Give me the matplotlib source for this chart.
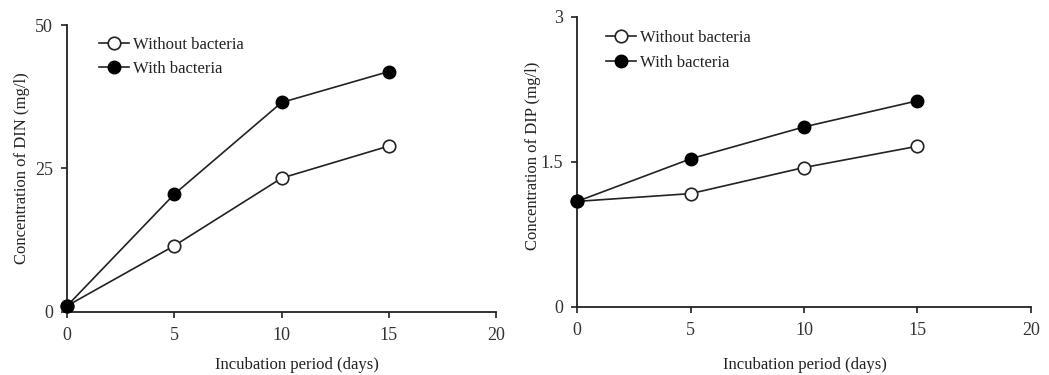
import numpy as np
import matplotlib.pyplot as plt

plt.rcParams['font.family'] = ['Liberation Serif', 'DejaVu Serif']

days = [0, 5, 10, 15]
din_without = [1.0, 11.5, 23.3, 28.9]
din_with = [1.0, 20.5, 36.5, 41.9]
dip_without = [1.09, 1.17, 1.44, 1.66]
dip_with = [1.09, 1.53, 1.86, 2.13]

fig = plt.figure(figsize=(10.49, 3.75), dpi=100)
ax1 = fig.add_axes([0.0639, 0.169, 0.4091, 0.764])
ax2 = fig.add_axes([0.5503, 0.182, 0.4323, 0.7735])

txt = '#222222'


def style(ax, without, with_b, ylabel, ymax, yticks, yticklabels, anchor,
          xlab_pos, ylab_pos):
    ax.plot(days, without, '-o', color='#222222', lw=1.2, ms=9,
            mfc='white', mec='#222222', mew=1.2, label='Without bacteria',
            clip_on=False, zorder=3)
    ax.plot(days, with_b, '-o', color='#222222', lw=1.2, ms=9,
            mfc='black', mec='black', label='With bacteria',
            clip_on=False, zorder=3)
    ax.set_xlim(0, 20)
    ax.set_ylim(0, ymax)
    ax.set_xticks([0, 5, 10, 15, 20])
    ax.set_yticks(yticks)
    ax.set_yticklabels(yticklabels)
    for s in ['top', 'right']:
        ax.spines[s].set_visible(False)
    for s in ['left', 'bottom']:
        ax.spines[s].set_linewidth(1.3)
        ax.spines[s].set_color('#222222')
    ax.tick_params(direction='out', length=4, width=1.2, colors='#222222',
                   labelsize=13, labelcolor='#333333')
    ax.tick_params(axis='x', pad=7)
    ax.tick_params(axis='y', pad=6)
    ax.set_xlabel('Incubation period (days)', fontsize=12, color=txt)
    ax.set_ylabel(ylabel, fontsize=12, color=txt)
    ax.xaxis.set_label_coords(*xlab_pos)
    ax.yaxis.set_label_coords(*ylab_pos)
    ax.legend(loc='upper left', bbox_to_anchor=anchor, frameon=False,
              fontsize=12, handlelength=1.8, handletextpad=0.25,
              labelspacing=0.5, labelcolor=txt)


style(ax1, din_without, din_with, 'Concentration of DIN (mg/l)', 50,
      [0, 25, 50], ['0', '25', '50'], (0.04, 1.012),
      (0.535, -0.158), (-0.0866, 0.5))
style(ax2, dip_without, dip_with, 'Concentration of DIP (mg/l)', 3,
      [0, 1.5, 3], ['0', '1.5', '3'], (0.03, 1.005),
      (0.502, -0.173), (-0.080, 0.52))

fig.savefig('out.png', dpi=100)
